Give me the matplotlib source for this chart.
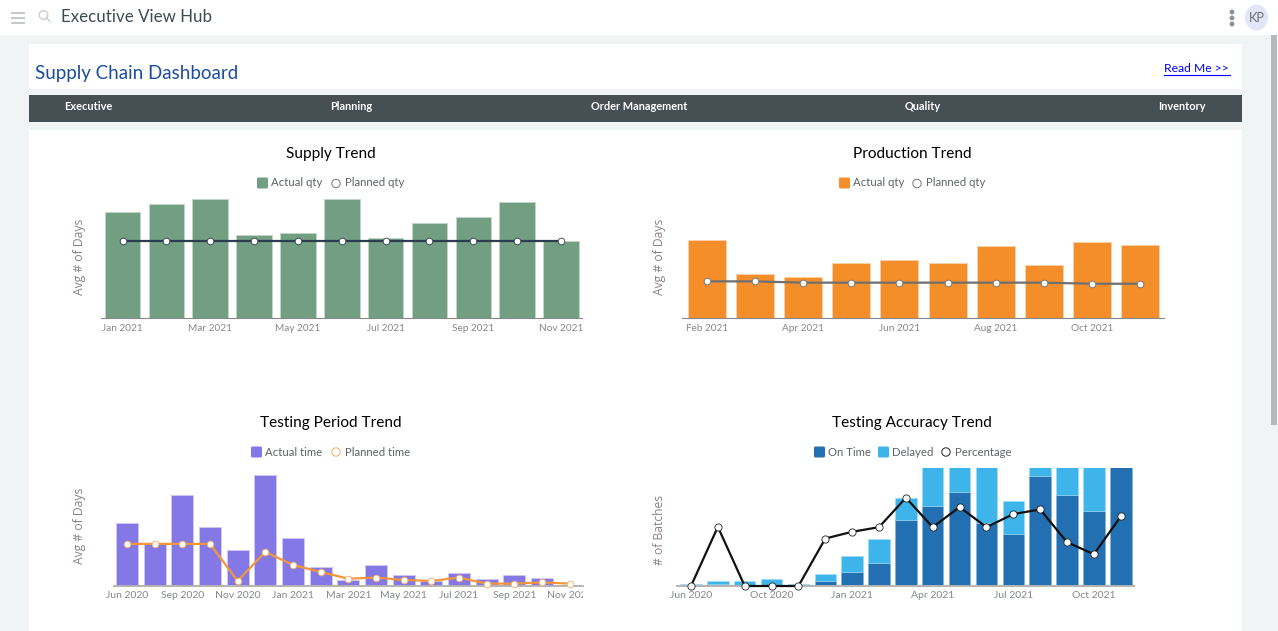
import matplotlib
matplotlib.use("Agg")
import matplotlib.pyplot as plt
from matplotlib.patches import Rectangle, Circle, Ellipse, FancyBboxPatch
from matplotlib.transforms import Bbox

plt.rcParams["font.family"] = ["Lato", "DejaVu Sans"]

W, H = 1278, 631

supply_months = ["Jan 2021", "Feb 2021", "Mar 2021", "Apr 2021", "May 2021", "Jun 2021",
                 "Jul 2021", "Aug 2021", "Sep 2021", "Oct 2021", "Nov 2021"]
supply_actual = [106.5, 114.6, 119.7, 83.5, 85.2, 119.7, 80.1, 95.3, 101.4, 117, 77.4]
supply_planned = [77.8] * 11

prod_months = ["Feb 2021", "Mar 2021", "Apr 2021", "May 2021", "Jun 2021",
               "Jul 2021", "Aug 2021", "Sep 2021", "Oct 2021", "Nov 2021"]
prod_actual = [78.1, 44.3, 40.9, 55.4, 57.8, 55.4, 72, 52.7, 76.7, 73.4]
prod_planned = [36.5, 36.5, 35.2, 35.2, 35.2, 35.2, 35.2, 35.2, 34.1, 34.1]

test_months = ["Jun 2020", "Jul 2020", "Sep 2020", "Oct 2020", "Nov 2020", "Dec 2020",
               "Jan 2021", "Feb 2021", "Mar 2021", "Apr 2021", "May 2021", "Jun 2021",
               "Jul 2021", "Aug 2021", "Sep 2021", "Oct 2021", "Nov 2021"]
test_actual = [63.9, 42.3, 92.3, 59.2, 36.8, 112.2, 48.7, 18.9, 6.1, 21.3, 10.8, 5.1,
               13.2, 7.1, 10.8, 8.5, 0]
test_planned = [42.6, 42.6, 42.6, 42.6, 5.1, 34.5, 21.3, 14.2, 7.4, 8.5, 6.1, 5.1,
                8.5, 2.4, 2.4, 3.7, 2.4]

acc_months = ["Jun 2020", "Jul 2020", "Aug 2020", "Oct 2020", "Nov 2020", "Dec 2020",
              "Jan 2021", "Feb 2021", "Mar 2021", "Apr 2021", "May 2021", "Jun 2021",
              "Jul 2021", "Aug 2021", "Sep 2021", "Oct 2021", "Nov 2021"]
acc_ontime = [0.7, 2.4, 0.3, 0.3, 0.3, 4.7, 14.2, 23.7, 66.6, 80.4, 95, 63.2, 52.4,
              111.6, 92.4, 75.7, 125]
acc_delayed = [1.7, 2.3, 4.4, 6.8, 2.1, 7.1, 16.6, 23.8, 22.2, 50, 35, 70, 33.5, 10, 40, 55, 0]
acc_percent = [0, 59.8, 0, 0, 0, 48, 54.8, 59.5, 89.2, 59.5, 79.8, 59.5, 72.7, 77.4,
               44.3, 32.1, 70.3]

fig = plt.figure(figsize=(W / 100, H / 100), dpi=100)
page = fig.add_axes([0, 0, 1, 1])
page.set_xlim(0, W)
page.set_ylim(H, 0)
page.axis("off")


def box(x0, y0, x1, y1, color):
    page.add_patch(Rectangle((x0, y0), x1 - x0, y1 - y0, fc=color, ec="none"))


def swatch(x, y, color):
    page.add_patch(FancyBboxPatch((x + 1.5, y - 4), 8, 8, boxstyle="round,pad=1.5", fc=color, ec="none"))


def ring(x, y, color):
    page.add_patch(Circle((x, y), 4.2, fc="white", ec=color, lw=0.7))


def legend_text(x, y, s):
    page.text(x, y, s, fontsize=8.2, color="#5f6468", va="center", ha="left")


def chart_axes(left, right, base, height, first, step, ymax, pad=4.5, size=7.2):
    ax = fig.add_axes([left / W, 1 - base / H, (right - left) / W, height / H])
    ax.patch.set_alpha(0)
    ax.set_xlim((left - first) / step, (right - first) / step)
    ax.set_ylim(0, ymax)
    ax.yaxis.set_visible(False)
    for s in ["top", "left", "right"]:
        ax.spines[s].set_visible(False)
    ax.tick_params(axis="x", length=0, pad=pad, labelsize=size, labelcolor="#85888a")
    return ax


def point_line(ax, xs, ys, color, edge, size=4.8, lw=1.6):
    ax.plot(xs, ys, color=color, lw=lw, marker="o", ms=size, mfc="white", mec=edge,
            mew=0.6, clip_on=False, zorder=5)


# page shell
box(0, 0, W, H, "#f0f4f5")
box(0, 0, W, 35, "white")
box(29, 44, 1242, 89, "white")
box(29, 95, 1242, 122, "#465054")
box(29, 130, 1242, H, "white")
box(1271, 35, 1277, 425, "#b8b8bc")

for y in [13, 18, 23]:
    page.plot([12, 24], [y, y], color="#c4c8cc", lw=1.4)
page.add_patch(Circle((43.5, 15), 4.3, fc="none", ec="#c6c9cc", lw=0.9))
page.plot([46.5, 50], [18, 21.5], color="#c6c9cc", lw=0.9)
page.text(61, 17, "Executive View Hub", fontsize=12.2, color="#3f4a52", va="center")
for y in [12, 18, 24]:
    page.add_patch(Circle((1232, y), 2.4, fc="#8c8f96", ec="none"))
page.add_patch(Ellipse((1256.5, 17.5), 23, 26, fc="#e3e6f8", ec="none"))
page.text(1256.5, 18, "KP", fontsize=9.3, color="#6c7078", ha="center", va="center")

page.text(35, 73.5, "Supply Chain Dashboard", fontsize=13.5, color="#1c4d9e", va="center")
page.text(1164, 69, "Read Me >>", fontsize=8.7, color="#0000ee", va="center")
page.plot([1164, 1230], [75, 75], color="#0000ee", lw=0.8)

nav_names = ["Executive", "Planning", "Order Management", "Quality", "Inventory"]
nav_x = [88, 351, 639, 923, 1182]
for name, x in zip(nav_names, nav_x):
    page.text(x, 107, name, fontsize=7.9, color="white", fontweight="bold", ha="center", va="center")

# titles and legends
for s, x, y in [("Supply Trend", 331, 154), ("Production Trend", 912, 154),
                ("Testing Period Trend", 331, 422.5), ("Testing Accuracy Trend", 912, 422.5)]:
    page.text(x, y, s, fontsize=11.1, color="black", ha="center", va="center")

swatch(257, 183, "#729e81")
legend_text(271, 183, "Actual qty")
ring(336, 183.5, "#777777")
legend_text(345, 183, "Planned qty")

swatch(839, 183, "#f38e2b")
legend_text(853, 183, "Actual qty")
ring(917, 183.5, "#777777")
legend_text(926, 183, "Planned qty")

swatch(251, 452, "#8378e6")
legend_text(265, 452, "Actual time")
ring(336, 452, "#f5a860")
legend_text(345, 452, "Planned time")

swatch(814, 452, "#2270b1")
legend_text(828, 452, "On Time")
swatch(878, 452, "#3db5ea")
legend_text(892, 452, "Delayed")
ring(946, 452, "#222222")
legend_text(955, 452, "Percentage")

for s, x, y in [("Avg # of Days", 80, 257), ("Avg # of Days", 659.5, 257),
                ("Avg # of Days", 80, 526), ("# of Batches", 659.5, 530)]:
    page.text(x, y, s, fontsize=8.7, color="#8b8088", rotation=90, ha="center", va="center",
              family=["Open Sans", "DejaVu Sans"])

# Supply Trend
ax = chart_axes(100.5, 582, 317.5, 118.3, 122.5, 43.85, 119.7)
xs = list(range(len(supply_months)))
ax.bar(xs, supply_actual, width=0.81, color="#729e81", edgecolor="#c3d6ca", lw=0.6)
point_line(ax, xs, supply_planned, "#2c3e50", "#2c3e50")
ax.set_xticks(xs[::2], supply_months[::2])
ax.spines["bottom"].set_color("#85888a")

# Production Trend
ax = chart_axes(682, 1164, 317.5, 79.2, 706.6, 48.2, 80)
xs = list(range(len(prod_months)))
ax.bar(xs, prod_actual, width=0.79, color="#f38e2b", edgecolor="#fad2ab", lw=0.6)
point_line(ax, xs, prod_planned, "#6f6f6f", "#6f6f6f")
ax.set_xticks(xs[::2], prod_months[::2])
ax.spines["bottom"].set_color("#85888a")

# Testing Period Trend
ax = chart_axes(113.5, 583, 586, 111.7, 127, 27.66, 113, pad=3.5, size=7.5)
xs = list(range(len(test_months)))
ax.bar(xs, test_actual, width=0.79, color="#8378e6", edgecolor="#cfcaf6", lw=0.6)
point_line(ax, xs, test_planned, "#f5953a", "#f5a860")
ax.set_xticks(xs[::2], test_months[::2])
ax.spines["bottom"].set_color("#b4b4b4")
ax.spines["bottom"].set_linewidth(1.4)
for lab in ax.get_xticklabels():
    lab.set_clip_on(True)
    lab.set_clip_box(Bbox([[0, 0], [583, H]]))

# Testing Accuracy Trend
ax = chart_axes(677, 1134, 586, 118, 691, 26.86, 119.3, pad=3.5, size=7.5)
xs = list(range(len(acc_months)))
ax.bar(xs, acc_ontime, width=0.8, color="#2270b1", edgecolor="#7fb0d6", lw=0.4)
ax.bar(xs, acc_delayed, width=0.8, bottom=acc_ontime, color="#3db5ea", edgecolor="#a5dcf5", lw=0.4)
point_line(ax, xs, acc_percent, "#111111", "#222222", size=5.2)
ax.set_xticks(xs[::3], ["Jun 2020", "Oct 2020", "Jan 2021", "Apr 2021", "Jul 2021", "Oct 2021"])
ax.spines["bottom"].set_color("#b4b4b4")
ax.spines["bottom"].set_linewidth(1.4)

fig.savefig("out.png", dpi=100)
